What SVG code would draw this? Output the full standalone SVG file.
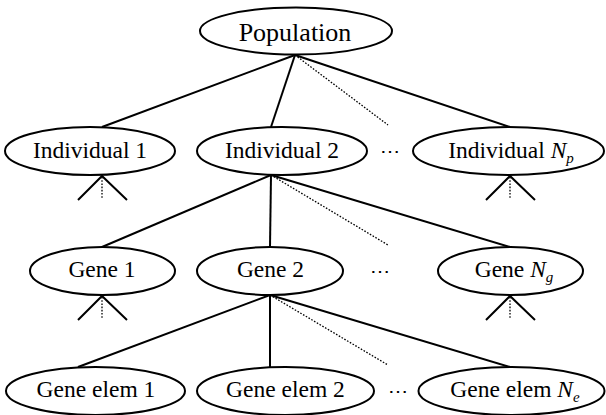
<svg xmlns="http://www.w3.org/2000/svg" width="606" height="415" viewBox="0 0 606 415">
<style>
.n{fill:#fff;stroke:#000;stroke-width:2}
.t{font-family:"Liberation Serif","Times New Roman",serif;font-size:23.5px;fill:#000;text-anchor:middle}
.s{font-size:15px}
.i{font-style:italic}
.c{stroke:#000;stroke-width:2;fill:none}
.d{stroke:#000;stroke-width:1.3;stroke-dasharray:1.6 1.6;fill:none}
.dots{font-family:"DejaVu Serif","Liberation Serif",serif;font-size:20px;fill:#000;text-anchor:middle}
</style>
<rect width="606" height="415" fill="#fff"/>
<g id="connectors">
<line class="c" x1="295" y1="55" x2="102" y2="127"/>
<line class="c" x1="295" y1="55" x2="271" y2="127"/>
<line class="c" x1="295" y1="55" x2="510" y2="127"/>
<line class="d" x1="295" y1="55" x2="388" y2="125"/>
<line class="c" x1="271" y1="175" x2="102" y2="247"/>
<line class="c" x1="271" y1="175" x2="270" y2="247"/>
<line class="c" x1="271" y1="175" x2="510" y2="247"/>
<line class="d" x1="271" y1="175" x2="388" y2="245"/>
<line class="c" x1="270" y1="295" x2="78" y2="367"/>
<line class="c" x1="270" y1="295" x2="270" y2="367"/>
<line class="c" x1="270" y1="295" x2="510" y2="367"/>
<line class="d" x1="270" y1="295" x2="388" y2="365"/>
<path class="c" d="M78 200L102 176L127 200M486 200L510 176L535 200M78 320L102 296L127 320M486 320L510 296L535 320"/>
<path class="d" d="M102 177V198M510 177V198M102 297V318M510 297V318"/>
</g>
<g id="population">
<ellipse class="n" cx="296" cy="31" rx="96" ry="23.5"/>
<text class="t" x="295" y="41" style="font-size:26px">Population</text>
</g>
<g id="individual1">
<ellipse class="n" cx="90" cy="151" rx="85" ry="24"/>
<text class="t" x="90" y="158">Individual 1</text>
</g>
<g id="individual2">
<ellipse class="n" cx="282" cy="151" rx="85" ry="24"/>
<text class="t" x="282" y="158">Individual 2</text>
</g>
<g id="dots1"><text class="dots" x="390" y="158">⋯</text></g>
<g id="individualNp">
<ellipse class="n" cx="508.5" cy="151" rx="95.5" ry="24"/>
<text class="t" x="511" y="158">Individual <tspan class="i">N</tspan><tspan class="i s" dy="5">p</tspan></text>
</g>
<g id="gene1">
<ellipse class="n" cx="102.5" cy="271" rx="72.5" ry="24"/>
<text class="t" x="102" y="277">Gene 1</text>
</g>
<g id="gene2">
<ellipse class="n" cx="270" cy="271" rx="73" ry="24"/>
<text class="t" x="270.5" y="277">Gene 2</text>
</g>
<g id="dots2"><text class="dots" x="380" y="278">⋯</text></g>
<g id="geneNg">
<ellipse class="n" cx="510.5" cy="271" rx="72.5" ry="24"/>
<text class="t" x="514" y="277">Gene <tspan class="i">N</tspan><tspan class="i s" dy="5">g</tspan></text>
</g>
<g id="geneelem1">
<ellipse class="n" cx="95.5" cy="391" rx="89.5" ry="24"/>
<text class="t" x="96" y="397">Gene elem 1</text>
</g>
<g id="geneelem2">
<ellipse class="n" cx="285.5" cy="391" rx="88.5" ry="24"/>
<text class="t" x="285.5" y="397">Gene elem 2</text>
</g>
<g id="dots3"><text class="dots" x="397.5" y="398">⋯</text></g>
<g id="geneelemNe">
<ellipse class="n" cx="511.5" cy="391" rx="93" ry="24"/>
<text class="t" x="515" y="397">Gene elem <tspan class="i">N</tspan><tspan class="i s" dy="5">e</tspan></text>
</g>
</svg>
